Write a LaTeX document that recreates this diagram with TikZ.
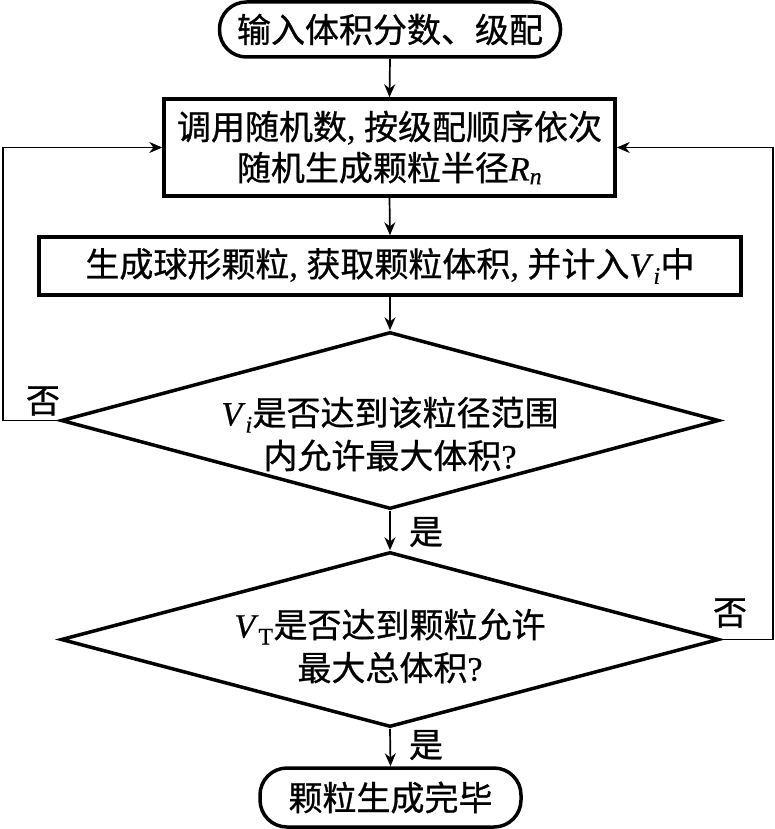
\documentclass[tikz,border=0pt]{standalone}
\usepackage{fontspec}
\setmainfont[FakeBold=0.6]{Liberation Serif}
\newfontfamily\cjk[FakeBold=0.8]{Noto Sans CJK SC}
\usetikzlibrary{shapes.geometric,arrows.meta}
\newcommand\myvar[2]{\textit{#1}\textsubscript{#2}}
\begin{document}
\begin{tikzpicture}[x=1pt,y=-1pt,
  every node/.style={font=\fontsize{34}{43}\selectfont, inner sep=0pt},
  term/.style={draw, line width=3.5pt, rectangle, rounded corners=27pt},
  proc/.style={draw, line width=3.5pt, rectangle},
  deci/.style={draw, line width=3.5pt, diamond, aspect=3.7},
  conn/.style={line width=1.7pt, -{Stealth[length=13pt,width=11pt]}},
  lbl/.style={font=\fontsize{34}{40}\selectfont\cjk}
]
\useasboundingbox (0,0) rectangle (775,829);

\node[term, minimum width=341pt, minimum height=55pt] (t1) at (390,29.5)
  {\cjk 输入体积分数、级配};
\node[proc, minimum width=451pt, minimum height=97pt, align=center] (b2) at (389.5,147.5)
  {{\cjk 调用随机数}, {\cjk 按级配顺序依次}\\[-2pt]{\cjk 随机生成颗粒半径}\myvar{R}{\textit{n}}};
\node[proc, minimum width=702pt, minimum height=58pt] (b3) at (390,266)
  {{\cjk 生成球形颗粒}, {\cjk 获取颗粒体积}, {\cjk 并计入}\myvar{V}{\textit{i}}{\cjk 中}};
\node[deci, minimum width=658pt, minimum height=177pt] (d1) at (390,420.5) {};
\node[align=center] (d1t) at (390,434)
  {\myvar{V}{\textit{i}}{\cjk 是否达到该粒径范围}\\{\cjk 内允许最大体积}?};
\node[deci, minimum width=658pt, minimum height=175pt] (d2) at (390,639.5) {};
\node[align=center] (d2t) at (390,646)
  {\myvar{V}{T}{\cjk 是否达到颗粒允许}\\{\cjk 最大总体积}?};
\node[term, minimum width=261pt, minimum height=59pt] (t2) at (390.5,797.5)
  {\cjk 颗粒生成完毕};

\node[lbl] (n1) at (43,401) {否};
\node[lbl] (y1) at (426,532) {是};
\node[lbl] (n2) at (730,613) {否};
\node[lbl] (y2) at (426,745) {是};

\draw[conn] (t1.south) -- (b2.north);
\draw[conn] (b2.south) -- (b3.north);
\draw[conn] (b3.south) -- (d1.north);
\draw[conn] (d1.south) -- (d2.north);
\draw[conn] (d2.south) -- (t2.north);
\coordinate (lft) at (3,420.5);
\coordinate (rgt) at (773,639.5);
\draw[conn] (d1.west) -- (lft) |- (b2.west);
\draw[conn] (d2.east) -- (rgt) |- (b2.east);
\end{tikzpicture}
\end{document}
